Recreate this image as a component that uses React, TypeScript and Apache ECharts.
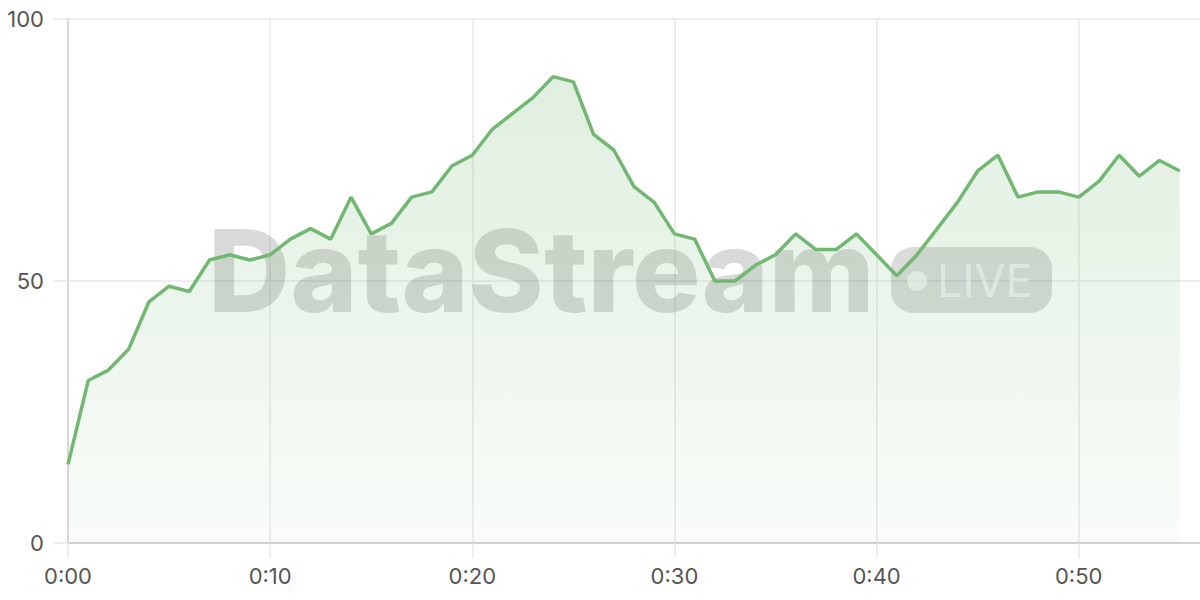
import React, { useEffect, useRef } from 'react';
import * as echarts from 'echarts';

// one reading per minute, 0:00 .. 0:55
const values = [
  15, 31, 33, 37, 46, 49, 48, 54, 55, 54,
  55, 58, 60, 58, 66, 59, 61, 66, 67, 72,
  74, 79, 82, 85, 89, 88, 78, 75, 68, 65,
  59, 58, 50, 50, 53, 55, 59, 56, 56, 59,
  55, 51, 55, 60, 65, 71, 74, 66, 67, 67,
  66, 69, 74, 70, 73, 71
];

const xTicks = [0, 10, 20, 30, 40, 50];
const xTickLabels = ['0:00', '0:10', '0:20', '0:30', '0:40', '0:50'];
const yTicks = [0, 50, 100];

const LINE = '#72b872';
const GRID_LINE = '#e8e8e8';
const AXIS_LINE = '#d2d2d2';
const FONT = 'Inter, "Noto Sans", sans-serif';

const App: React.FC = () => {
  const chartRef = useRef<HTMLDivElement>(null);

  useEffect(() => {
    if (!chartRef.current) return;
    const chart = echarts.init(chartRef.current, null, { renderer: 'svg' });

    const option = {
      animation: false,
      grid: { left: 68, right: 0, top: 19, bottom: 57 },
      xAxis: {
        type: 'value',
        min: 0,
        max: 56,
        interval: 10,
        axisLine: { show: true, lineStyle: { color: AXIS_LINE, width: 2 } },
        axisTick: {
          show: true,
          length: 15,
          customValues: xTicks,
          lineStyle: { color: GRID_LINE, width: 1.5 }
        },
        axisLabel: {
          customValues: xTicks,
          margin: 22,
          color: '#555',
          fontSize: 22,
          fontFamily: FONT,
          formatter: (v: number) => xTickLabels[xTicks.indexOf(v)] ?? ''
        },
        splitLine: { show: true, lineStyle: { color: GRID_LINE, width: 1.5 } }
      },
      yAxis: {
        type: 'value',
        min: yTicks[0],
        max: yTicks[yTicks.length - 1],
        interval: 50,
        axisLine: { show: true, lineStyle: { color: AXIS_LINE, width: 1.5 } },
        axisTick: { show: true, length: 15, lineStyle: { color: GRID_LINE, width: 1.5 } },
        axisLabel: {
          margin: 24,
          color: '#555',
          fontSize: 22,
          fontFamily: FONT
        },
        splitLine: { show: true, lineStyle: { color: GRID_LINE, width: 1.5 } }
      },
      graphic: [
        {
          type: 'text',
          z: 1,
          x: 208,
          y: 270,
          style: {
            text: 'DataStream',
            font: `800 114px ${FONT}`,
            fill: 'rgba(0,0,0,0.15)',
            verticalAlign: 'middle',
            align: 'left'
          }
        },
        {
          type: 'rect',
          z: 1,
          shape: { x: 891, y: 247, width: 161, height: 66, r: 22 },
          style: { fill: 'rgba(0,0,0,0.14)' }
        },
        {
          type: 'circle',
          z: 1,
          shape: { cx: 917, cy: 281, r: 10 },
          style: { fill: 'rgba(255,255,255,0.6)' }
        },
        {
          type: 'text',
          z: 1,
          x: 937,
          y: 280,
          style: {
            text: 'LIVE',
            font: `400 45px ${FONT}`,
            fill: 'rgba(255,255,255,0.6)',
            verticalAlign: 'middle',
            align: 'left'
          }
        }
      ],
      series: [
        {
          type: 'line',
          data: values.map((v, i) => [i, v]),
          showSymbol: false,
          lineStyle: { color: LINE, width: 3.5 },
          itemStyle: { color: LINE },
          areaStyle: {
            color: new echarts.graphic.LinearGradient(0, 0, 0, 1, [
              { offset: 0, color: 'rgba(116,184,116,0.32)' },
              { offset: 1, color: 'rgba(116,184,116,0.06)' }
            ])
          }
        }
      ]
    };

    chart.setOption(option);

    return () => {
      chart.dispose();
    };
  }, []);

  return (
    <div
      ref={chartRef}
      style={{ position: 'absolute', left: 0, top: 0, width: 1200, height: 600 }}
    />
  );
};

export default App;
